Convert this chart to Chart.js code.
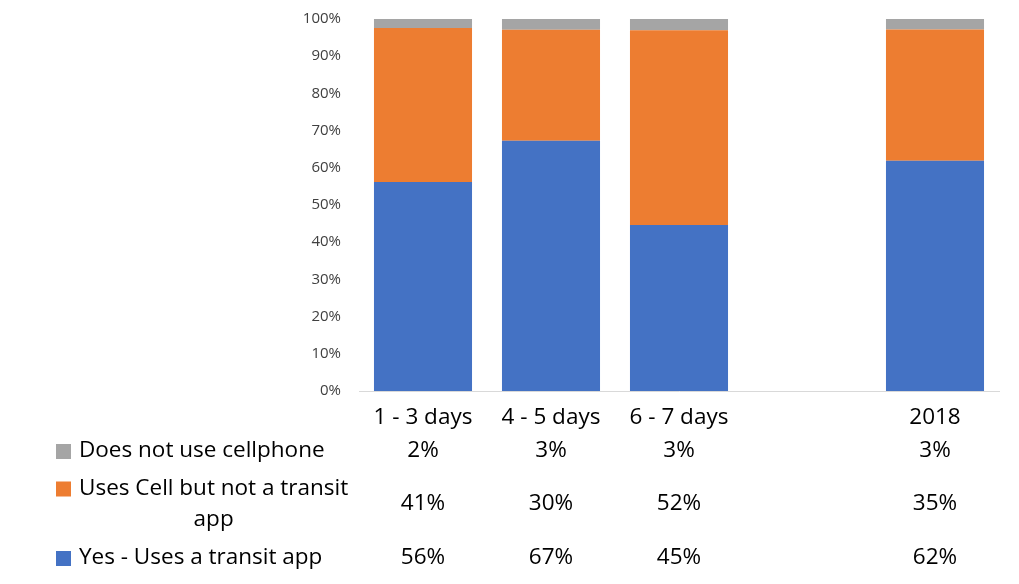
<!DOCTYPE html>
<html><head><meta charset="utf-8">
<script src="https://cdn.jsdelivr.net/npm/chart.js@4/dist/chart.umd.min.js"></script>
<style>html,body{margin:0;padding:0;background:#fff}#wrap{width:1019px;height:584px}</style>
</head><body><div id="wrap"><canvas id="c" width="1019" height="584"></canvas></div>
<script>
const categories = ["1 - 3 days", "4 - 5 days", "6 - 7 days", "", "2018"];
const seriesNames = ["Does not use cellphone", "Uses Cell but not a transit app", "Yes - Uses a transit app"];
const noCell = [2.4, 2.9, 3.0, null, 2.8];
const cellNoApp = [41.4, 29.8, 52.4, null, 35.3];
const usesApp = [56.2, 67.3, 44.6, null, 61.9];
const yTicks = [0, 10, 20, 30, 40, 50, 60, 70, 80, 90, 100];

const FONT = "'Open Sans', sans-serif";
const colors = {gray: "#A5A5A5", orange: "#ED7D31", blue: "#4472C4"};

const tablePlugin = {
  id: "dataTable",
  afterDraw(chart) {
    const ctx = chart.ctx;
    const xs = chart.scales.x;
    const base = chart.chartArea.bottom;
    const rows = [
      {lines: ["Does not use cellphone"], color: colors.gray, data: noCell, y: base + 60},
      {lines: ["Uses Cell but not a transit", "app"], color: colors.orange, data: cellNoApp, y: base + 113},
      {lines: ["Yes - Uses a transit app"], color: colors.blue, data: usesApp, y: base + 167}
    ];
    ctx.save();
    ctx.font = "22.5px " + FONT;
    ctx.fillStyle = "#000";
    ctx.textBaseline = "middle";
    rows.forEach(r => {
      const lineH = 31;
      const n = r.lines.length;
      const y0 = r.y - (n - 1) * lineH / 2;
      ctx.fillStyle = r.color;
      ctx.fillRect(56, y0 - 7, 15, 15);
      ctx.fillStyle = "#000";
      const w0 = ctx.measureText(r.lines[0]).width;
      ctx.textAlign = "left";
      ctx.fillText(r.lines[0], 79, y0);
      for (let i = 1; i < n; i++) {
        ctx.textAlign = "center";
        ctx.fillText(r.lines[i], 79 + w0 / 2, y0 + i * lineH);
      }
      ctx.textAlign = "center";
      r.data.forEach((v, i) => {
        if (v == null) return;
        ctx.fillText(Math.round(v) + "%", xs.getPixelForValue(i), r.y);
      });
    });
    ctx.restore();
  }
};

new Chart(document.getElementById("c"), {
  type: "bar",
  data: {
    labels: categories,
    datasets: [
      {label: seriesNames[2], data: usesApp, backgroundColor: colors.blue},
      {label: seriesNames[1], data: cellNoApp, backgroundColor: colors.orange},
      {label: seriesNames[0], data: noCell, backgroundColor: colors.gray}
    ]
  },
  options: {
    responsive: false,
    animation: false,
    layout: {padding: {top: 6, right: 20, left: 0, bottom: 0}},
    plugins: {legend: {display: false}, tooltip: {enabled: false}},
    datasets: {bar: {categoryPercentage: 0.766, barPercentage: 1.0, borderWidth: 0}},
    scales: {
      x: {
        stacked: true,
        grid: {display: false},
        border: {display: true, color: "#D9D9D9", width: 1},
        ticks: {font: {family: FONT, size: 22.5}, color: "#000", padding: 5, maxRotation: 0},
        afterFit(s) { s.height = 193; }
      },
      y: {
        stacked: true,
        min: 0, max: 100,
        afterBuildTicks(s) { s.ticks = yTicks.map(v => ({value: v})); },
        grid: {display: false},
        border: {display: false},
        ticks: {font: {family: FONT, size: 15}, color: "#404040", padding: 10, callback: v => v + "%"},
        afterFit(s) { s.width = 359; }
      }
    }
  },
  plugins: [tablePlugin]
});
</script>
</body></html>
